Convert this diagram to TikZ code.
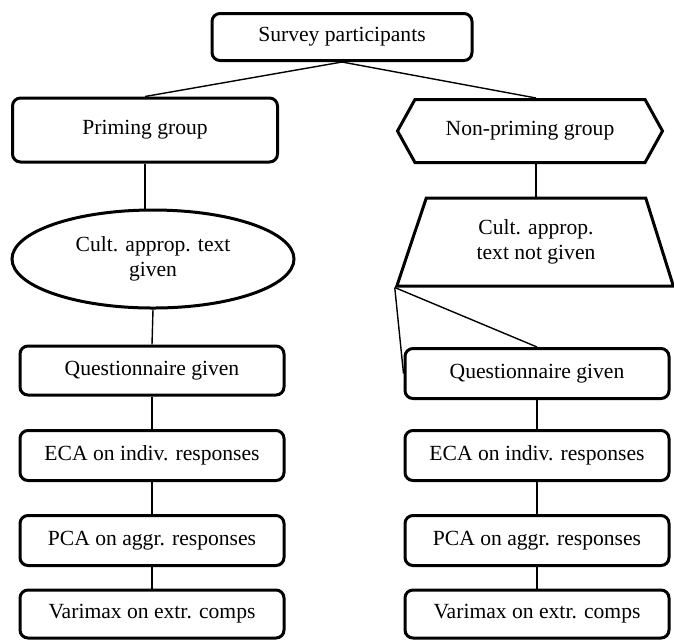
\documentclass[tikz,border=0pt]{standalone}
\usepackage{fontspec}
\setmainfont{Liberation Serif}
\usetikzlibrary{shapes.geometric, shapes.symbols, positioning}
\tikzset{
  stepbox/.style={rectangle, rounded corners=4pt, minimum width=132pt, minimum height=25pt,
                  draw=black, line width=1.5pt, align=center, font=\fontsize{10.8}{12.5}\selectfont},
  groupbox/.style={stepbox, minimum width=132.5pt, minimum height=32pt},
  hexbox/.style={signal, signal to=east and west, signal from=nowhere, signal pointer angle=122,
                 minimum width=132.5pt, minimum height=31.5pt, inner sep=2pt,
                 draw=black, line width=1.5pt, align=center, font=\fontsize{10.8}{12.5}\selectfont},
  trapbox/.style={trapezium, trapezium left angle=73, trapezium right angle=74, trapezium stretches=true,
                  minimum width=138.5pt, minimum height=44pt,
                  draw=black, line width=1.5pt, align=center, font=\fontsize{10.8}{12.5}\selectfont},
  ovalbox/.style={ellipse, minimum width=141pt, minimum height=49pt,
                  draw=black, line width=1.5pt, align=center, font=\fontsize{10.8}{12.5}\selectfont},
  link/.style={line width=0.7pt}
}
\begin{document}
\begin{tikzpicture}[x=0.5pt, y=-0.5pt]
\useasboundingbox (0,0) rectangle (674,639);
\node (survey) [stepbox, minimum width=130pt, minimum height=23.5pt] at (342,37) {Survey participants};
\node (priming) [groupbox] at (145,130) {Priming group};
\node (nonpriming) [hexbox] at (530,131) {Non-priming group};
\node (textgiven) [ovalbox] at (153,259) {Cult. approp. text\\given};
\node (textnot) [trapbox] at (536,242) {Cult. approp.\\text not given};

% left column
\node (questL) [stepbox, minimum height=24.5pt] at (152,370.5) {Questionnaire given};
\node (ecaL) [stepbox] at (152,455.5) {ECA on indiv. responses};
\node (pcaL) [stepbox] at (152,540.5) {PCA on aggr. responses};
\node (varL) [stepbox, minimum height=24pt] at (152,614) {Varimax on extr. comps};

% right column
\node (questR) [stepbox] at (537,373.5) {Questionnaire given};
\node (ecaR) [stepbox] at (537,455.5) {ECA on indiv. responses};
\node (pcaR) [stepbox] at (537,540.5) {PCA on aggr. responses};
\node (varR) [stepbox, minimum height=24pt] at (537,614) {Varimax on extr. comps};

% Connectors
\draw [link] (survey.south) -- (priming.north);
\draw [link] (survey.south) -- (textnot.north |- nonpriming.north);
\draw [link] (priming.south) -- (priming.south |- textgiven.north);
\draw [link] (textnot.north |- nonpriming.south) -- (textnot.north);
\draw [link] (textgiven.south) -- (questL.north);
\draw [link] (textnot.bottom left corner) -- (questR.west);
\draw [link] (textnot.bottom left corner) -- (questR.north);
\draw [link] (questL) -- (ecaL);
\draw [link] (ecaL) -- (pcaL);
\draw [link] (pcaL) -- (varL);
\draw [link] (questR) -- (ecaR);
\draw [link] (ecaR) -- (pcaR);
\draw [link] (pcaR) -- (varR);
\end{tikzpicture}
\end{document}
